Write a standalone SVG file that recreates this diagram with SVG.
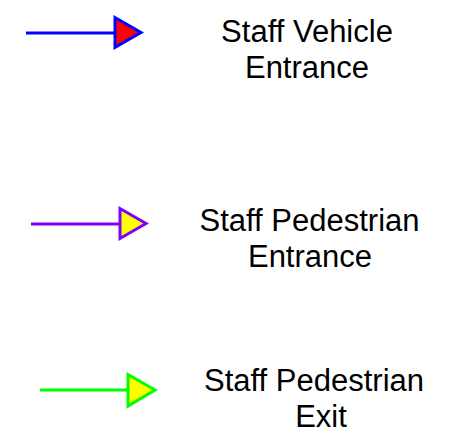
<svg xmlns="http://www.w3.org/2000/svg" width="459" height="444" viewBox="0 0 459 444">
<style>
text{font-family:"Liberation Sans",Arial,sans-serif;font-size:31px;fill:#000;text-anchor:middle}
.ln{stroke-width:3;fill:none}
.hd{stroke-width:3;stroke-linejoin:miter}
</style>
<rect width="459" height="444" fill="#fff"/>
<g id="connectors">
<line class="ln" x1="26" y1="33" x2="116" y2="33" stroke="#0000FF"/>
<line class="ln" x1="31" y1="224" x2="121" y2="224" stroke="#8000FF"/>
<line class="ln" x1="40" y1="390" x2="129" y2="390" stroke="#00FF00"/>
</g>
<g id="vehicle-entrance">
<polygon class="hd" points="115,17.5 115,47.5 141,32.5" fill="#FF0000" stroke="#0000FF"/>
<text x="307" y="42">Staff Vehicle</text>
<text x="307" y="78">Entrance</text>
</g>
<g id="pedestrian-entrance">
<polygon class="hd" points="120,208.5 120,238.5 146,223.5" fill="#FFFF00" stroke="#8000FF"/>
<text x="309.5" y="230.5">Staff Pedestrian</text>
<text x="310" y="267">Entrance</text>
</g>
<g id="pedestrian-exit">
<polygon class="hd" points="128,374.5 128,406 155,390" fill="#FFFF00" stroke="#00FF00"/>
<text x="314" y="391">Staff Pedestrian</text>
<text x="321" y="427">Exit</text>
</g>
</svg>
